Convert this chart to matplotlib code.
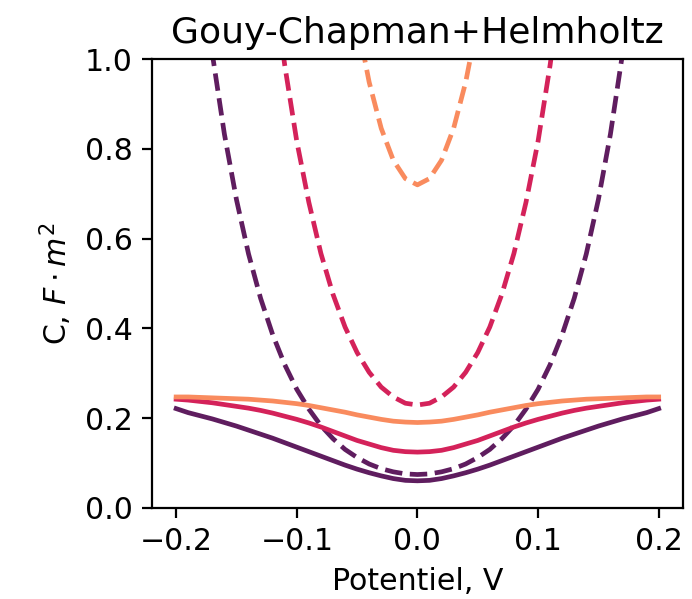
import numpy as np
import matplotlib
matplotlib.use("Agg")
import matplotlib.pyplot as plt
import seaborn as sns

nan = np.nan

# Potentiel (V)
potentiel = [-0.20, -0.19, -0.18, -0.17, -0.16, -0.15, -0.14, -0.13, -0.12, -0.11,
             -0.10, -0.09, -0.08, -0.07, -0.06, -0.05, -0.04, -0.03, -0.02, -0.01,
             0.00, 0.01, 0.02, 0.03, 0.04, 0.05, 0.06, 0.07, 0.08, 0.09,
             0.10, 0.11, 0.12, 0.13, 0.14, 0.15, 0.16, 0.17, 0.18, 0.19, 0.20]

# Gouy-Chapman seul (pointillés)
gc_1 = [nan, nan, 1.23, 1.012, 0.833, 0.687, 0.566, 0.467, 0.386, 0.319,
        0.264, 0.220, 0.183, 0.154, 0.130, 0.112, 0.0975, 0.087, 0.080, 0.0754,
        0.074, 0.0754, 0.080, 0.087, 0.0975, 0.112, 0.130, 0.154, 0.183, 0.220,
        0.264, 0.319, 0.386, 0.467, 0.566, 0.687, 0.833, 1.012, 1.23, nan, nan]
gc_2 = [nan, nan, nan, nan, nan, nan, nan, nan, 1.19, 0.987,
        0.817, 0.681, 0.567, 0.476, 0.403, 0.346, 0.302, 0.269, 0.247, 0.233,
        0.229, 0.233, 0.247, 0.269, 0.302, 0.346, 0.403, 0.476, 0.567, 0.681,
        0.817, 0.987, 1.19, nan, nan, nan, nan, nan, nan, nan, nan]
gc_3 = [nan, nan, nan, nan, nan, nan, nan, nan, nan, nan,
        nan, nan, nan, nan, nan, 1.086, 0.949, 0.846, 0.775, 0.734,
        0.720, 0.734, 0.775, 0.846, 0.949, 1.086, nan, nan, nan, nan,
        nan, nan, nan, nan, nan, nan, nan, nan, nan, nan, nan]

# Gouy-Chapman + Helmholtz (traits pleins)
gch_1 = [0.221, 0.212, 0.205, 0.198, 0.190, 0.182, 0.173, 0.164, 0.155, 0.145,
         0.135, 0.125, 0.115, 0.105, 0.095, 0.086, 0.078, 0.071, 0.065, 0.061,
         0.060, 0.061, 0.065, 0.071, 0.078, 0.086, 0.095, 0.105, 0.115, 0.125,
         0.135, 0.145, 0.155, 0.164, 0.173, 0.182, 0.190, 0.198, 0.205, 0.212, 0.221]
gch_2 = [0.242, 0.240, 0.237, 0.234, 0.230, 0.226, 0.222, 0.217, 0.211, 0.204,
         0.197, 0.189, 0.180, 0.170, 0.160, 0.150, 0.142, 0.134, 0.128, 0.125,
         0.124, 0.125, 0.128, 0.134, 0.142, 0.150, 0.160, 0.170, 0.180, 0.189,
         0.197, 0.204, 0.211, 0.217, 0.222, 0.226, 0.230, 0.234, 0.237, 0.240, 0.242]
gch_3 = [0.247, 0.247, 0.246, 0.245, 0.244, 0.243, 0.242, 0.240, 0.238, 0.235,
         0.232, 0.228, 0.223, 0.218, 0.213, 0.207, 0.202, 0.197, 0.193, 0.191,
         0.190, 0.191, 0.193, 0.197, 0.202, 0.207, 0.213, 0.218, 0.223, 0.228,
         0.232, 0.235, 0.238, 0.240, 0.242, 0.243, 0.244, 0.245, 0.246, 0.247, 0.247]

couleurs = ["#5f1d5f", "#d4225a", "#f98b5e"]

plt.rcParams['font.size'] = 10.8
plt.rcParams['axes.titlesize'] = 13

fig = plt.figure(figsize=(3.46, 2.995), dpi=200)
ax = fig.add_axes([0.2197, 0.1524, 0.767, 0.7486])

for gc, gch, c in zip([gc_1, gc_2, gc_3], [gch_1, gch_2, gch_3], couleurs):
    ax.plot(potentiel, gch, color=c, lw=1.7)
    ax.plot(potentiel, gc, '--', color=c, lw=1.7)

ax.set_ylim(0, 1)
ax.set_xlabel("Potentiel, V")
ax.set_ylabel(r"C, $F\cdot m^2$")
ax.set_title("Gouy-Chapman+Helmholtz")

plt.savefig("out.png", dpi=200)
